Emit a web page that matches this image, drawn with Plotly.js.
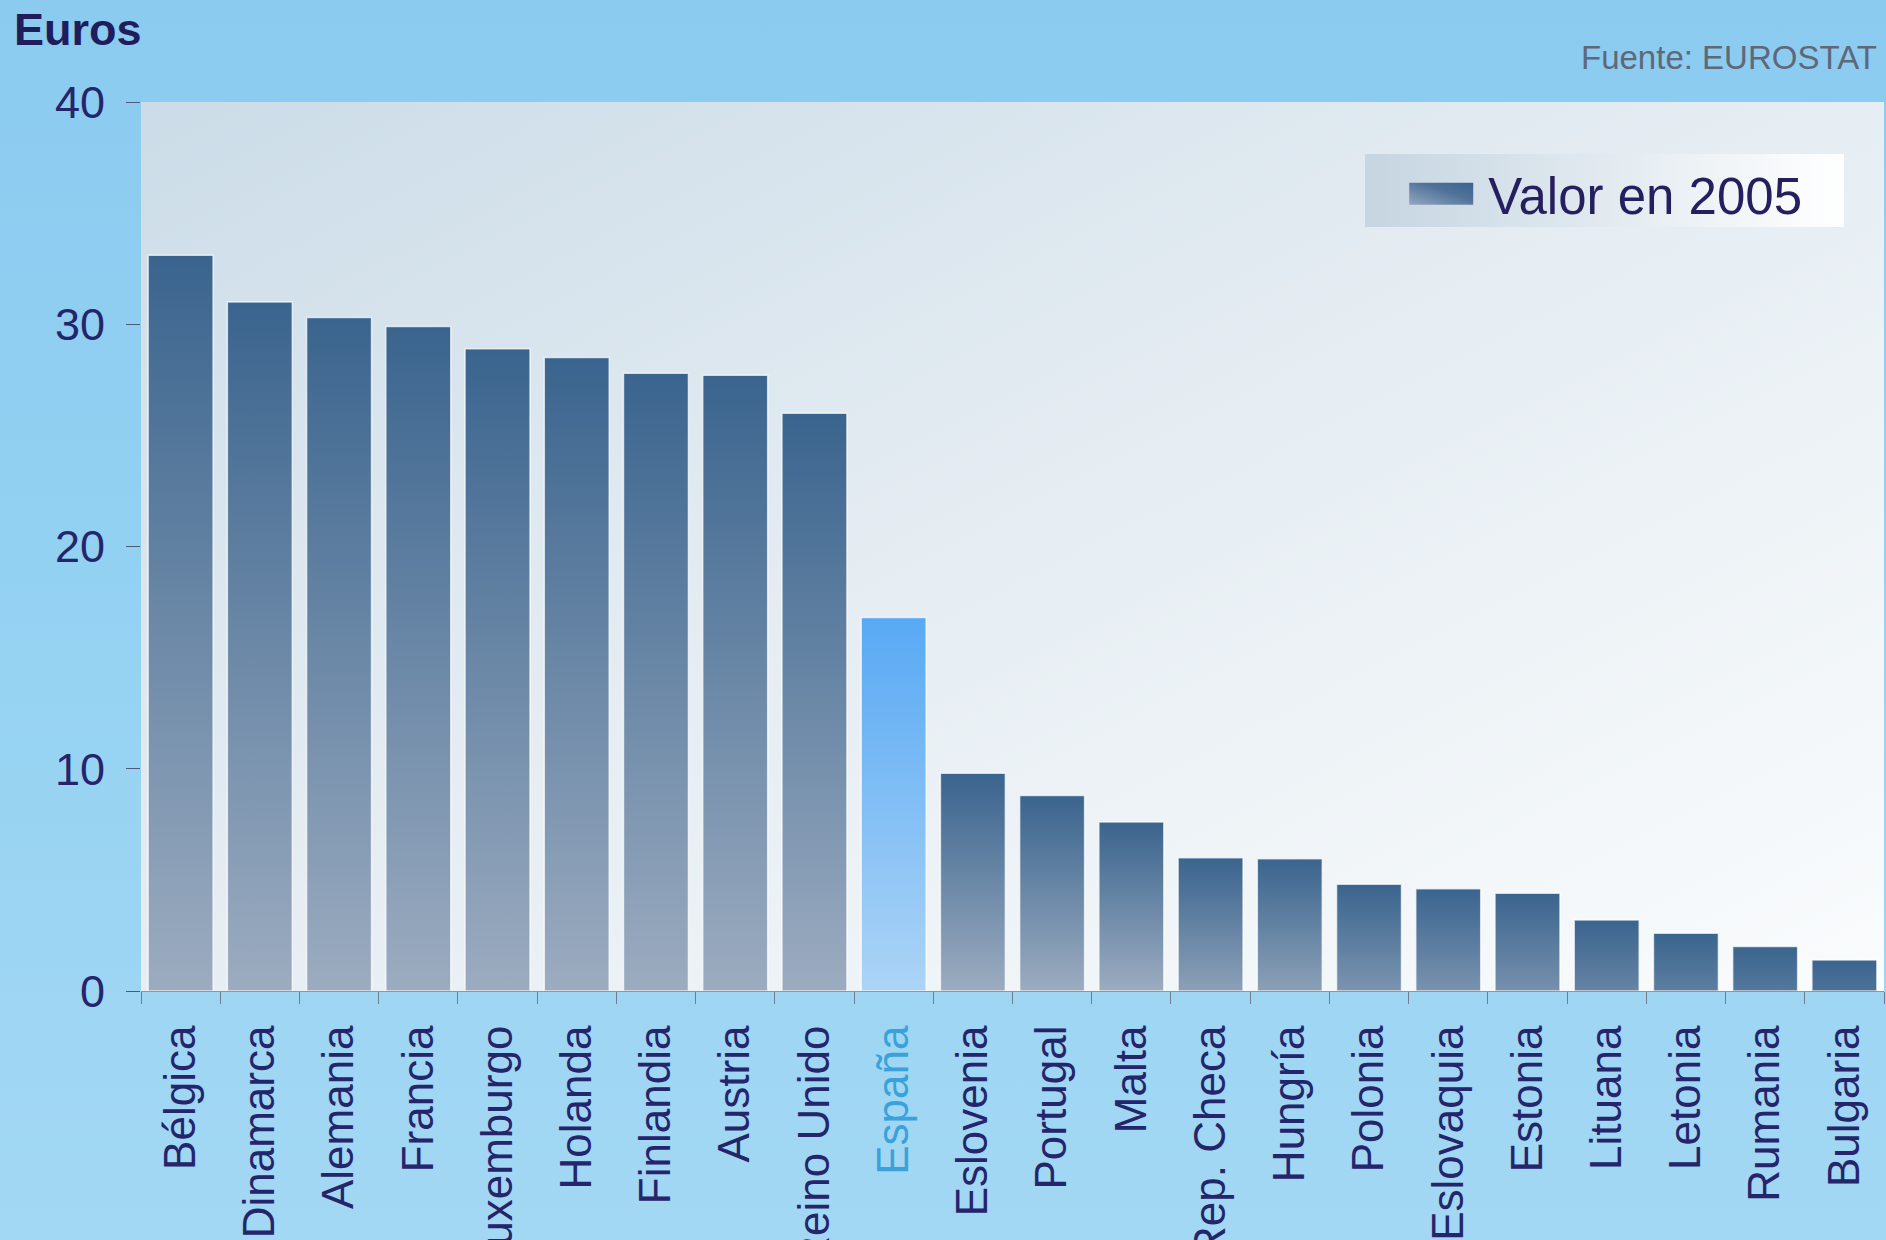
<!DOCTYPE html>
<html>
<head>
<meta charset="utf-8">
<script src="https://cdn.plot.ly/plotly-3.0.1.min.js"></script>
<style>
html,body{margin:0;padding:0;overflow:hidden;width:1886px;height:1240px;
  background:linear-gradient(to bottom,#8bcbf0 0%,#93d1f2 45%,#a3d8f4 100%);}
#chart{width:1886px;height:1240px;}
</style>
</head>
<body>
<div id="chart"></div>
<script>
// ---- data ----
const categories = ['Bélgica','Dinamarca','Alemania','Francia','Luxemburgo','Holanda','Finlandia','Austria','Reino Unido','España','Eslovenia','Portugal','Malta','Rep. Checa','Hungría','Polonia','Eslovaquia','Estonia','Lituana','Letonia','Rumania','Bulgaria'];
const values2005 = [33.1,31.0,30.3,29.9,28.9,28.5,27.8,27.7,26.0,16.8,9.8,8.8,7.6,6.0,5.95,4.8,4.6,4.4,3.2,2.6,2.0,1.4];
const seriesName = 'Valor en 2005';
const highlighted = 'España';
const yTickValues = [0,10,20,30,40];
const yAxisLabel = 'Euros';
const sourceNote = 'Fuente: EUROSTAT';

// ---- style ----
const DARK = [58,100,142], LIGHT = [156,172,192];
const HI_TOP = '#58a9f4', HI_BOTTOM = '#acd4f6';
const NAVY = '#25256b';

const barColors = categories.map(c => c === highlighted ? HI_TOP : 'rgb(' + DARK.join(',') + ')');
const tickText = categories.map(c => c === highlighted ? '<span style="color:#3aa2da">' + c + '</span>' : c);

const trace = {
  type: 'bar',
  x: categories,
  y: values2005,
  name: seriesName,
  marker: {color: barColors, line: {color: 'rgba(255,255,255,0.7)', width: 1.5}},
  hoverinfo: 'skip',
  showlegend: true
};

const layout = {
  width: 1886, height: 1240,
  margin: {l: 141, r: 2, t: 102, b: 249, pad: 0},
  paper_bgcolor: 'rgba(0,0,0,0)',
  plot_bgcolor: '#e6eef3',
  font: {family: '"Liberation Sans", Arial, sans-serif', color: NAVY, size: 42},
  bargap: 0.18,
  showlegend: true,
  legend: {x: 0.719, y: 0.9415, xanchor: 'left', yanchor: 'top', bgcolor: '#e8eff4',
           borderwidth: 0, font: {size: 51, color: '#241f5e'}, itemwidth: 84},
  xaxis: {type: 'category', tickangle: -90, tickson: 'boundaries', ticks: 'outside', ticklen: 12,
          tickcolor: '#6f7d8e', showline: true, linecolor: '#8b97a5', linewidth: 1, showgrid: false,
          tickfont: {size: 44, color: NAVY}, automargin: false, tickmode: 'array',
          tickvals: categories, ticktext: tickText, ticklabelstandoff: 16, fixedrange: true},
  yaxis: {range: [0, 40], tickmode: 'array', tickvals: yTickValues, ticks: 'outside', ticklen: 14,
          tickcolor: '#4a5a78', showline: false, showgrid: false, zeroline: false,
          tickfont: {size: 45, color: NAVY}, automargin: false, ticklabelstandoff: 12, fixedrange: true},
  annotations: [
    {text: '<b>' + yAxisLabel + '</b>', xref: 'paper', yref: 'paper', x: -0.074, y: 1.081,
     xanchor: 'left', yanchor: 'middle', showarrow: false, font: {size: 45, color: '#1f1d5c'}},
    {text: sourceNote, xref: 'paper', yref: 'paper', x: 0.9971, y: 1.0506,
     xanchor: 'right', yanchor: 'middle', showarrow: false, font: {size: 33, color: '#5f6878'}}
  ]
};

const gd = document.getElementById('chart');
Plotly.newPlot(gd, [trace], layout, {displayModeBar: false, staticPlot: true})
  .then(() => { decorate(); setTimeout(decorate, 50); });

let decorated = false;
function decorate() {
  const NS = 'http://www.w3.org/2000/svg';
  const svg = gd.querySelector('svg.main-svg');
  let defs = svg.querySelector('defs');
  if (!defs) { defs = document.createElementNS(NS, 'defs'); svg.insertBefore(defs, svg.firstChild); }
  function grad(id, x1, y1, x2, y2, stops) {
    let g = document.getElementById(id);
    if (g) return 'url(#' + id + ')';
    g = document.createElementNS(NS, 'linearGradient');
    g.setAttribute('id', id);
    g.setAttribute('x1', x1); g.setAttribute('y1', y1); g.setAttribute('x2', x2); g.setAttribute('y2', y2);
    stops.forEach(s => {
      const st = document.createElementNS(NS, 'stop');
      st.setAttribute('offset', s[0]); st.setAttribute('stop-color', s[1]);
      g.appendChild(st);
    });
    defs.appendChild(g);
    return 'url(#' + id + ')';
  }
  const mix = (a, b, f) => 'rgb(' + a.map((v, i) => Math.round(v + (b[i] - v) * f)).join(',') + ')';

  // plot background
  const plotBg = grad('plotBgGrad', 0, 0, 1, 1, [[0, '#cbdce8'], [0.45, '#e4ecf2'], [1, '#fafcfd']]);
  const bg = gd.querySelector('.bglayer rect.bg');
  if (bg) bg.style.fill = plotBg;

  // bars
  const hiFill = grad('hiGrad', 0, 0, 0, 1, [[0, HI_TOP], [1, HI_BOTTOM]]);
  const paths = gd.querySelectorAll('.barlayer .point path');
  paths.forEach((p, i) => {
    if (categories[i] === highlighted) { p.style.fill = hiFill; return; }
    const h = p.getBBox().height;
    const f = Math.min(1, h / 160);
    p.style.fill = grad('barGrad' + i, 0, 0, 0, 1, [[0, mix(DARK, DARK, 0)], [1, mix(DARK, LIGHT, f)]]);
  });

  // legend
  const legBg = gd.querySelector('.legend rect.bg');
  if (legBg && !decorated) {
    legBg.style.fill = grad('legGrad', 0, 0, 1, 0, [[0, '#c5d5e1'], [1, '#ffffff']]);
    // box: left 1365, top 154, right 1844, bottom 227 (page px)
    const r = legBg.getBoundingClientRect();
    const x0 = parseFloat(legBg.getAttribute('x') || 0), y0 = parseFloat(legBg.getAttribute('y') || 0);
    legBg.setAttribute('x', x0 + (1365 - r.left));
    legBg.setAttribute('y', y0 + (154 - r.top));
    legBg.setAttribute('width', 1844 - 1365);
    legBg.setAttribute('height', 227 - 154);
  }
  gd.querySelectorAll('.legend .legendpoints path').forEach(sym => {
    sym.setAttribute('d', 'M32,11H-32V-11H32Z');
    sym.style.fill = grad('legSymGrad', 0, 1, 1, 0, [[0, '#93a7bf'], [0.6, '#4f7299'], [1, '#3a6390']]);
    sym.style.stroke = 'none';
  });
  if (legBg) decorated = true;
}
</script>
</body>
</html>
